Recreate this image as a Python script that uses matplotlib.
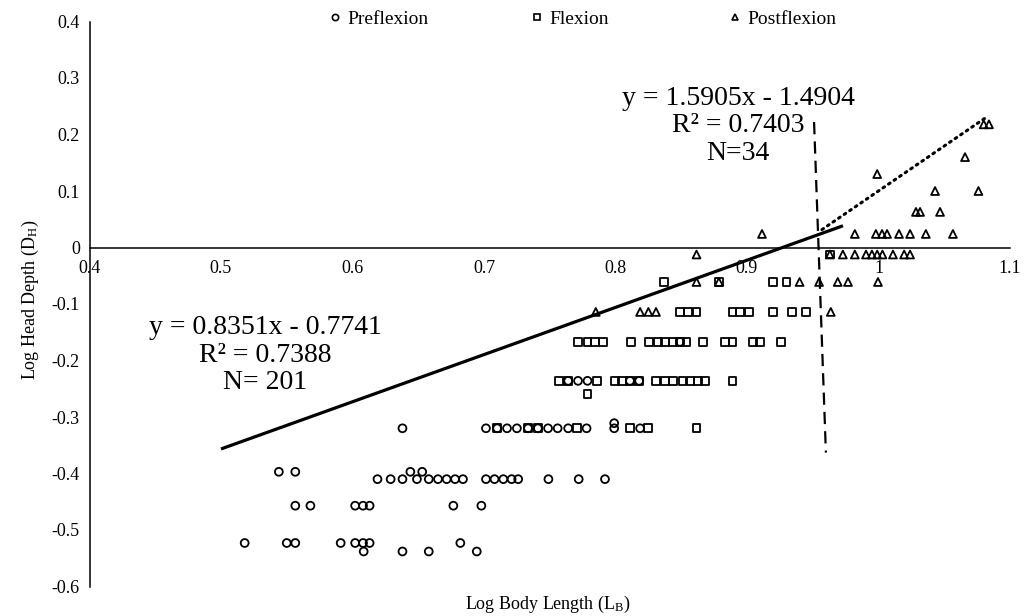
import matplotlib
matplotlib.use('Agg')
import matplotlib.pyplot as plt
from matplotlib.lines import Line2D
import numpy as np

plt.rcParams['font.family'] = ['Liberation Serif', 'DejaVu Serif']
plt.rcParams['mathtext.fontset'] = 'custom'
plt.rcParams['mathtext.rm'] = 'Liberation Serif'
plt.rcParams['mathtext.it'] = 'Liberation Serif:italic'

# ---------------- data ----------------
# Preflexion (circles): y levels and x values on each level
pre_levels = [-0.320, -0.311, -0.236, -0.167, -0.397, -0.410, -0.457, -0.523, -0.538]
pre_x = [
    [0.638, 0.7015, 0.710, 0.7175, 0.725, 0.7335, 0.741, 0.7487, 0.756, 0.764, 0.778, 0.799, 0.8187],
    [0.799],
    [0.764, 0.7715, 0.7787, 0.811, 0.818],
    [0.849],
    [0.544, 0.5565, 0.644, 0.653],
    [0.619, 0.629, 0.638, 0.649, 0.658, 0.665, 0.6716, 0.678, 0.684, 0.7015, 0.708,
     0.7147, 0.721, 0.726, 0.749, 0.772, 0.792],
    [0.5565, 0.568, 0.602, 0.608, 0.613, 0.6767, 0.698],
    [0.518, 0.550, 0.5565, 0.591, 0.602, 0.608, 0.613, 0.682],
    [0.6085, 0.638, 0.658, 0.6945],
]

# Flexion (squares)
flex_levels = [-0.320, -0.259, -0.236, -0.167, -0.114, -0.061, -0.0124]
flex_x = [
    [0.710, 0.7335, 0.741, 0.7705, 0.811, 0.8247, 0.8616],
    [0.7787],
    [0.757, 0.764, 0.786, 0.7996, 0.805, 0.811, 0.818, 0.831, 0.8376, 0.844, 0.851,
     0.857, 0.8626, 0.868, 0.889],
    [0.7715, 0.7787, 0.7844, 0.7905, 0.812, 0.8255, 0.832, 0.8376, 0.844, 0.849, 0.854,
     0.8665, 0.8833, 0.889, 0.9045, 0.910, 0.9258],
    [0.849, 0.855, 0.8616, 0.889, 0.8947, 0.9015, 0.920, 0.934, 0.9449],
    [0.837, 0.8786, 0.9198, 0.930],
    [0.963],
]

# Postflexion (triangles)
post_levels = [-0.114, -0.061, -0.0124, 0.024, 0.063, 0.100, 0.130, 0.160, 0.218]
post_x = [
    [0.785, 0.8187, 0.825, 0.8308, 0.9637],
    [0.8616, 0.8786, 0.940, 0.9548, 0.969, 0.9768, 0.9996],
    [0.8616, 0.963, 0.9729, 0.982, 0.9905, 0.995, 0.999, 1.003, 1.011, 1.0195, 1.024],
    [0.9114, 0.982, 0.998, 1.0027, 1.0065, 1.0156, 1.024, 1.036, 1.0566],
    [1.0285, 1.0316, 1.0468],
    [1.043, 1.076],
    [0.999],
    [1.0658],
    [1.080, 1.084],
]

# trend lines (from printed equations)
fit1_slope, fit1_icpt = 0.8351, -0.7741
fit1_xrange = [0.5, 0.973]
fit2_slope, fit2_icpt = 1.5905, -1.4904
fit2_xrange = [0.957, 1.082]
# separator (dashed)
sep_x = [0.951, 0.960]
sep_y = [0.222, -0.363]

xticks = [0.4, 0.5, 0.6, 0.7, 0.8, 0.9, 1.0, 1.1]
xticklabels = ['0.4', '0.5', '0.6', '0.7', '0.8', '0.9', '1', '1.1']
yticks = [0.4, 0.3, 0.2, 0.1, 0.0, -0.1, -0.2, -0.3, -0.4, -0.5, -0.6]
yticklabels = ['0.4', '0.3', '0.2', '0.1', '0', '-0.1', '-0.2', '-0.3', '-0.4', '-0.5', '-0.6']

def flatten(levels, xs):
    X, Y = [], []
    for lv, row in zip(levels, xs):
        X.extend(row)
        Y.extend([lv] * len(row))
    return np.array(X), np.array(Y)

W, H = 1027, 616
fig = plt.figure(figsize=(W / 100, H / 100), dpi=100)
L, R, T, B = 89.5, 1010, 21.5, 586.5
ax = fig.add_axes([L / W, 1 - B / H, (R - L) / W, (B - T) / H])
ax.set_xlim(0.4, 1.1)
ax.set_ylim(-0.6, 0.4)

for s in ['top', 'right']:
    ax.spines[s].set_visible(False)
ax.spines['bottom'].set_position(('data', 0))
ax.spines['left'].set_linewidth(1.1)
ax.spines['bottom'].set_linewidth(1.1)

ax.set_xticks(xticks)
ax.set_xticklabels(xticklabels)
ax.set_yticks(yticks)
ax.set_yticklabels(yticklabels)
ax.tick_params(axis='both', length=0, labelsize=13)
ax.tick_params(axis='x', pad=9)
ax.tick_params(axis='y', pad=7)

ms = 32
px, py = flatten(pre_levels, pre_x)
ax.scatter(px, py, s=ms, marker='o', facecolors='none', edgecolors='black', linewidths=1.3, zorder=3)
fx, fy = flatten(flex_levels, flex_x)
ax.scatter(fx, fy, s=ms, marker='s', facecolors='none', edgecolors='black', linewidths=1.3, zorder=3)
tx, ty = flatten(post_levels, post_x)
ax.scatter(tx, ty, s=ms, marker='^', facecolors='none', edgecolors='black', linewidths=1.3, zorder=3)

x1 = np.array(fit1_xrange)
ax.plot(x1, fit1_slope * x1 + fit1_icpt, color='black', lw=2.3, solid_capstyle='butt', zorder=4)
x2 = np.array(fit2_xrange)
ax.plot(x2, fit2_slope * x2 + fit2_icpt, color='black', lw=2.2, linestyle=(0, (0.6, 1.6)),
        dash_capstyle='round', zorder=4)
ax.plot(sep_x, sep_y, color='black', lw=1.6, linestyle=(0, (5.5, 3.2)), zorder=4)

# equation annotations
fig.text(265 / W, 1 - 355 / H, 'y = 0.8351x - 0.7741\nR² = 0.7388\nN= 201',
         ha='center', va='center', fontsize=20, linespacing=1.15, multialignment='center')
fig.text(738 / W, 1 - 126 / H, 'y = 1.5905x - 1.4904\nR² = 0.7403\nN=34',
         ha='center', va='center', fontsize=20, linespacing=1.15, multialignment='center')

# axis titles
fig.text(548 / W, 1 - 604 / H, r'Log Body Length (L$_\mathrm{B}$)', ha='center', va='center', fontsize=13)
fig.text(30 / W, 1 - 300 / H, r'Log Head Depth (D$_\mathrm{H}$)', ha='center', va='center',
         fontsize=13, rotation=90)

# legend: three entries placed along the top
entries = [('o', 'Preflexion', 330), ('s', 'Flexion', 532), ('^', 'Postflexion', 730)]
for mk, lab, xpos in entries:
    h = Line2D([], [], marker=mk, linestyle='none', markerfacecolor='none',
               markeredgecolor='black', markeredgewidth=1.2, markersize=4.5)
    lg = fig.legend(handles=[h], labels=[lab], loc='center left',
                    bbox_to_anchor=(xpos / W, 1 - 19 / H), frameon=False, fontsize=14,
                    handlelength=0.5, handletextpad=0.4, borderpad=0, borderaxespad=0)

fig.savefig('out.png', dpi=100)
